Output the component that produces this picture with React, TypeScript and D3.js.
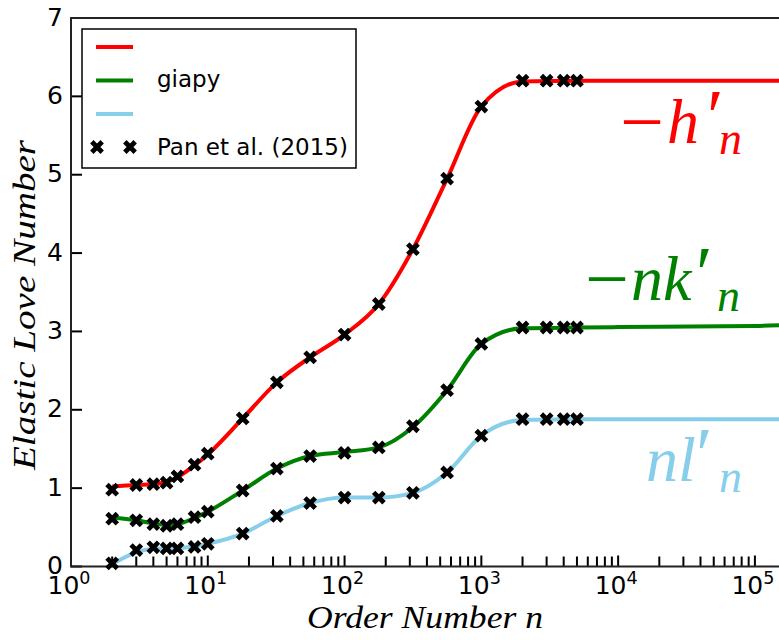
import React, { useEffect, useRef } from "react";
import * as d3 from "d3";

// Pan et al. (2015) benchmark points
const panOrders = [2, 3, 4, 5, 6, 8, 10, 18, 32, 56, 100, 178, 316, 562, 1000, 2000, 3000, 4000, 5000];
const panH = [0.98, 1.04, 1.05, 1.07, 1.15, 1.3, 1.44, 1.89, 2.35, 2.67, 2.96, 3.35, 4.05, 4.95, 5.87, 6.2, 6.2, 6.2, 6.2];
const panK = [0.61, 0.59, 0.54, 0.52, 0.54, 0.63, 0.7, 0.97, 1.25, 1.41, 1.45, 1.52, 1.79, 2.25, 2.84, 3.05, 3.05, 3.05, 3.05];
const panL = [0.04, 0.21, 0.245, 0.23, 0.23, 0.25, 0.29, 0.42, 0.645, 0.81, 0.88, 0.88, 0.94, 1.2, 1.67, 1.88, 1.88, 1.88, 1.88];

// giapy model curves
const modelOrders = [2, 3, 4, 5, 6, 8, 10, 18, 32, 56, 100, 178, 316, 562, 1000, 2000, 5000, 10000, 100000, 150000];
const giapyH = [1.02, 1.04, 1.05, 1.08, 1.14, 1.29, 1.43, 1.89, 2.35, 2.67, 2.96, 3.35, 4.05, 4.95, 5.87, 6.19, 6.2, 6.2, 6.2, 6.2];
const giapyK = [0.63, 0.59, 0.55, 0.53, 0.54, 0.62, 0.7, 0.97, 1.25, 1.41, 1.46, 1.52, 1.78, 2.25, 2.84, 3.04, 3.05, 3.055, 3.07, 3.08];
const giapyL = [0.03, 0.18, 0.225, 0.23, 0.235, 0.255, 0.29, 0.42, 0.645, 0.81, 0.88, 0.88, 0.94, 1.2, 1.67, 1.87, 1.88, 1.88, 1.88, 1.88];

const yTicks = [0, 1, 2, 3, 4, 5, 6, 7];
const xDecades = [0, 1, 2, 3, 4, 5];

const RED = "#ff0000";
const GREEN = "#008000";
const BLUE = "#87ceeb";

function App() {
    const svgRef = useRef<SVGSVGElement>(null);

    useEffect(() => {
        const width = 779;
        const height = 640;
        const left = 71;
        const top = 18;
        const bottom = 566.5;
        const right = 779;

        const svg = d3.select(svgRef.current);
        svg.selectAll("*").remove();

        const x = d3.scaleLog().domain([1, 1.5e5]).range([left, right]);
        const y = d3.scaleLinear().domain([0, 7]).range([bottom, top]);

        // minor ticks on the x axis (pointing inward)
        const minor: number[] = [];
        for (let k = 0; k <= 5; k++) {
            for (let m = 2; m <= 9; m++) {
                const v = m * Math.pow(10, k);
                if (v <= 1.5e5) minor.push(v);
            }
        }
        svg.append("g").selectAll("line").data(minor).enter().append("line")
            .attr("x1", d => x(d)).attr("x2", d => x(d))
            .attr("y1", bottom).attr("y2", bottom - 10)
            .attr("stroke", "#000").attr("stroke-width", 2);

        svg.append("g").selectAll("line").data(xDecades).enter().append("line")
            .attr("x1", d => x(Math.pow(10, d))).attr("x2", d => x(Math.pow(10, d)))
            .attr("y1", bottom).attr("y2", bottom - 11)
            .attr("stroke", "#000").attr("stroke-width", 2);

        svg.append("g").selectAll("line").data(yTicks).enter().append("line")
            .attr("x1", left).attr("x2", left + 11)
            .attr("y1", d => y(d)).attr("y2", d => y(d))
            .attr("stroke", "#000").attr("stroke-width", 2);

        // spines
        svg.append("path")
            .attr("d", `M${right + 2},${top}H${left}V${bottom}H${right + 2}`)
            .attr("fill", "none").attr("stroke", "#222").attr("stroke-width", 2);

        // tick labels
        svg.append("g").selectAll("text").data(yTicks).enter().append("text")
            .attr("x", 63).attr("y", d => y(d) - 1)
            .attr("text-anchor", "end").attr("dominant-baseline", "central")
            .attr("font-family", "DejaVu Sans").attr("font-size", 25)
            .text(d => d);

        const xl = svg.append("g").selectAll("text").data(xDecades).enter().append("text")
            .attr("x", d => x(Math.pow(10, d)) - 2).attr("y", 594)
            .attr("text-anchor", "middle")
            .attr("font-family", "DejaVu Sans").attr("font-size", 25);
        xl.append("tspan").text("10");
        xl.append("tspan").attr("dy", -10).attr("font-size", 17.5).text(d => d);

        // model lines
        const line = d3.line<number>()
            .x((_, i) => x(modelOrders[i]))
            .y(d => y(d))
            .curve(d3.curveMonotoneX);

        const series = [
            { vals: giapyH, pts: panH, color: RED },
            { vals: giapyK, pts: panK, color: GREEN },
            { vals: giapyL, pts: panL, color: BLUE },
        ];

        const clip = svg.append("clipPath").attr("id", "plotclip");
        clip.append("rect").attr("x", left).attr("y", top).attr("width", right - left + 5).attr("height", bottom - top);

        const plot = svg.append("g").attr("clip-path", "url(#plotclip)");
        series.forEach(s => {
            plot.append("path").attr("d", line(s.vals))
                .attr("fill", "none").attr("stroke", s.color).attr("stroke-width", 4);
        });

        const cross = d3.symbol().type(d3.symbolX).size(72);
        series.forEach(s => {
            svg.append("g").selectAll("path").data(s.pts).enter().append("path")
                .attr("d", cross)
                .attr("transform", (d, i) => `translate(${x(panOrders[i])},${y(d)})`)
                .attr("fill", "none").attr("stroke", "#000").attr("stroke-width", 4.8);
        });

        // legend
        const lg = svg.append("g");
        lg.append("rect").attr("x", 82).attr("y", 29).attr("width", 274).attr("height", 139)
            .attr("fill", "#fff").attr("stroke", "#000").attr("stroke-width", 1.5);
        [RED, GREEN, BLUE].forEach((c, i) => {
            lg.append("line").attr("x1", 96).attr("x2", 133)
                .attr("y1", 47 + i * 33.5).attr("y2", 47 + i * 33.5)
                .attr("stroke", c).attr("stroke-width", 4);
        });
        [97, 130].forEach(cx => {
            lg.append("path").attr("d", cross).attr("transform", `translate(${cx},147)`)
                .attr("fill", "none").attr("stroke", "#000").attr("stroke-width", 4.8);
        });
        lg.append("text").attr("x", 157).attr("y", 87)
            .attr("font-family", "DejaVu Sans").attr("font-size", 23).text("giapy");
        lg.append("text").attr("x", 157).attr("y", 155)
            .attr("font-family", "DejaVu Sans").attr("font-size", 23).text("Pan et al. (2015)");

        // axis labels
        svg.append("text").attr("x", 425).attr("y", 628)
            .attr("text-anchor", "middle").attr("font-family", "Liberation Serif")
            .attr("font-style", "italic").attr("font-size", 32)
            .attr("textLength", 236).attr("lengthAdjust", "spacingAndGlyphs")
            .text("Order Number n");
        svg.append("text").attr("transform", "translate(35,305) rotate(-90)")
            .attr("text-anchor", "middle").attr("font-family", "Liberation Serif")
            .attr("font-style", "italic").attr("font-size", 32)
            .attr("textLength", 330).attr("lengthAdjust", "spacingAndGlyphs")
            .text("Elastic Love Number");

        // curve annotations: -h'_n, -nk'_n, nl'_n
        const annots = [
            { minusX: 620, bodyX: 667, body: "h", primeX: 707, subX: 719, base: 143, color: RED },
            { minusX: 585, bodyX: 631, body: "nk", primeX: 696, subX: 717, base: 300, color: GREEN },
            { minusX: null, bodyX: 646, body: "nl", primeX: 696, subX: 719, base: 481, color: BLUE },
        ];
        annots.forEach(a => {
            const t = svg.append("text").attr("y", a.base)
                .attr("fill", a.color).attr("font-family", "Liberation Serif")
                .attr("font-size", 64);
            if (a.minusX !== null) {
                t.append("tspan").attr("x", a.minusX).attr("y", a.base + 5)
                    .attr("font-size", 78).text("\u2212");
            }
            t.append("tspan").attr("x", a.bodyX).attr("y", a.base)
                .attr("font-style", "italic").text(a.body);
            t.append("tspan").attr("x", a.primeX).attr("y", a.base - 1)
                .attr("font-size", 76).text("\u2032");
            t.append("tspan").attr("x", a.subX).attr("y", a.base + 11)
                .attr("font-style", "italic").attr("font-size", 46).text("n");
        });

        svg.attr("width", width).attr("height", height);
    }, []);

    return <svg ref={svgRef} style={{ position: "absolute", left: 0, top: 0 }}></svg>;
}

export default App;
